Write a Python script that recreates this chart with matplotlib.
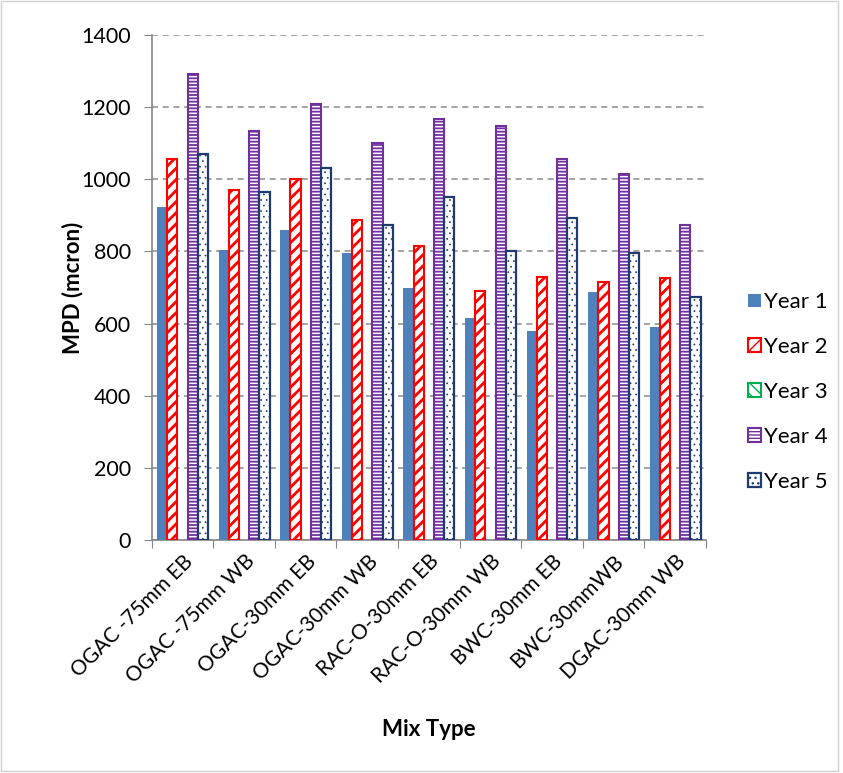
import numpy as np
import matplotlib
matplotlib.use("Agg")
import matplotlib.pyplot as plt
from matplotlib.patches import Rectangle

plt.rcParams['font.family'] = ['Lato', 'DejaVu Sans']

categories = ["OGAC -75mm EB", "OGAC -75mm WB", "OGAC-30mm EB", "OGAC-30mm WB",
              "RAC-O-30mm EB", "RAC-O-30mm WB", "BWC-30mm EB", "BWC-30mmWB", "DGAC-30mm WB"]
year1 = [922, 805, 860, 795, 698, 615, 580, 688, 590]
year2 = [1055, 970, 1000, 888, 815, 690, 728, 715, 725]
year3 = [np.nan] * 9
year4 = [1292, 1135, 1208, 1100, 1168, 1148, 1055, 1015, 872]
year5 = [1070, 965, 1030, 872, 952, 800, 892, 795, 675]
series_names = ["Year 1", "Year 2", "Year 3", "Year 4", "Year 5"]
yticks = [0, 200, 400, 600, 800, 1000, 1200, 1400]

fig = plt.figure(figsize=(8.43, 7.73), dpi=100)
ax = fig.add_axes([0.180, 0.3014, 0.6575, 0.6533])

x = np.arange(len(categories))
w = 0.165
styles = [
    dict(color='#4f81bd', edgecolor='#4f81bd', linewidth=0),
    dict(color='white', edgecolor='#ff0000', hatch='///', linewidth=1.5),
    dict(color='white', edgecolor='#00b050', hatch='\\\\\\', linewidth=1.5),
    dict(color='white', edgecolor='#7030a0', hatch='-----', linewidth=1.5),
    dict(color='white', edgecolor='#1f3a6e', hatch='...', linewidth=1.6),
]
hatch_lw = [1.0, 2.0, 2.0, 1.3, 0.5]
data = [year1, year2, year3, year4, year5]
handles = []
for i, (vals, st) in enumerate(zip(data, styles)):
    with plt.rc_context({'hatch.linewidth': hatch_lw[i]}):
        bc = ax.bar(x + (i - 2) * w, vals, w, label=series_names[i], zorder=3, **st)
    for p in bc.patches:
        if hasattr(p, 'set_hatch_linewidth'):
            p.set_hatch_linewidth(hatch_lw[i])
    handles.append(bc)

ax.set_xlim(-0.5, len(categories) - 0.5)
ax.set_ylim(0, 1400)
ax.set_yticks(yticks)
ax.tick_params(axis='y', labelsize=15.5, length=6, color='#868686', pad=9)
ax.yaxis.grid(True, linestyle=(0, (4, 3)), color='#8c8c8c', linewidth=1.1, zorder=0)
ax.set_axisbelow(True)

ax.set_xticks(np.arange(-0.5, len(categories) + 0.5, 1))
ax.set_xticklabels([])
ax.tick_params(axis='x', length=6, color='#868686')
ax.set_xticks(x, minor=True)
ax.set_xticklabels(categories, minor=True, rotation=45, ha='right',
                   rotation_mode='anchor', fontsize=15)
ax.tick_params(axis='x', which='minor', length=0, pad=8)

for s in ['top', 'right']:
    ax.spines[s].set_visible(False)
for s in ['left', 'bottom']:
    ax.spines[s].set_color('#868686')
    ax.spines[s].set_linewidth(1.2)

ax.set_ylabel("MPD (mcron)", fontsize=16, fontweight='bold', va='center')
ax.yaxis.set_label_coords(-0.143, 0.5)
ax.set_xlabel("Mix Type", fontsize=16, fontweight='bold', va='center')
ax.xaxis.set_label_coords(0.5, -0.375)

leg = fig.legend(handles=handles, labels=series_names, loc='center left',
                 bbox_to_anchor=(0.864, 0.493), frameon=False, fontsize=16,
                 handlelength=0.55, handleheight=0.55, handletextpad=0.15,
                 labelspacing=1.12, borderpad=0.4)

fig.add_artist(Rectangle((0.001, 0.002), 0.993, 0.997, transform=fig.transFigure,
                         fill=False, edgecolor='#d0d0d0', linewidth=1))

fig.savefig("out.png", dpi=100)
